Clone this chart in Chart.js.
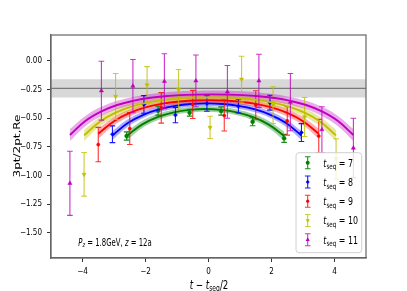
<!DOCTYPE html>
<html><head><meta charset="utf-8">
<script src="https://cdn.jsdelivr.net/npm/chart.js@4.4.1/dist/chart.umd.min.js"></script>
<style>html,body{margin:0;padding:0;background:#fff}canvas{display:block}</style>
</head><body>
<canvas id="c" width="407" height="291"></canvas>
<script>
// ---- axis ticks ----
const xTicks = [-4, -2, 0, 2, 4];
const xTickLabels = ['−4', '−2', '0', '2', '4'];
const yTicks = [0, -0.25, -0.5, -0.75, -1, -1.25, -1.5];
const yTickLabels = ['0.00', '−0.25', '−0.50', '−0.75', '−1.00', '−1.25', '−1.50'];

// ---- series: t_seq values ----
const tseqs = [7, 8, 9, 10, 11];

// data points (x = t - tseq/2, slightly offset), values and errors
const x7 = [-2.6, -1.6, -0.6, 0.4, 1.4, 2.4];
const y7 = [-0.655, -0.434, -0.452, -0.437, -0.531, -0.676];
const e7 = [0.036, 0.039, 0.030, 0.036, 0.035, 0.035];

const x8 = [-3.05, -2.05, -1.05, -0.05, 0.95, 1.95, 2.95];
const y8 = [-0.640, -0.380, -0.473, -0.372, -0.395, -0.365, -0.625];
const e8 = [0.073, 0.077, 0.067, 0.068, 0.060, 0.065, 0.078];

const x9 = [-3.5, -2.5, -1.5, -0.5, 0.5, 1.5, 2.5, 3.5];
const y9 = [-0.730, -0.590, -0.410, -0.380, -0.477, -0.385, -0.524, -0.655];
const e9 = [0.150, 0.140, 0.133, 0.123, 0.135, 0.124, 0.124, 0.145];

const x10 = [-3.95, -2.95, -1.95, -0.95, 0.05, 1.05, 2.05, 3.05, 4.05];
const y10 = [-0.990, -0.310, -0.210, -0.250, -0.580, -0.160, -0.386, -0.490, -0.855];
const e10 = [0.190, 0.200, 0.160, 0.175, 0.097, 0.200, 0.160, 0.170, 0.175];

const x11 = [-4.4, -3.4, -2.4, -1.4, -0.4, 0.6, 1.6, 2.6, 3.6, 4.6];
const y11 = [-1.068, -0.260, -0.220, -0.178, -0.174, -0.270, -0.174, -0.360, -0.600, -0.760];
const e11 = [0.280, 0.257, 0.232, 0.240, 0.226, 0.230, 0.232, 0.250, 0.200, 0.260];

// fit curves with band half-widths
const fx7 = [-2.6, -2.1, -1.6, -1.1, -0.6, -0.1, 0.4, 0.9, 1.4, 1.9, 2.4];
const fy7 = [-0.655, -0.554, -0.489, -0.449, -0.427, -0.420, -0.427, -0.449, -0.489, -0.554, -0.655];
const fe7 = [0.038, 0.031, 0.027, 0.025, 0.024, 0.024, 0.024, 0.025, 0.027, 0.031, 0.038];

const fx8 = [-3.05, -2.55, -2.05, -1.55, -1.05, -0.55, -0.05, 0.45, 0.95, 1.45, 1.95, 2.45, 2.95];
const fy8 = [-0.650, -0.540, -0.468, -0.421, -0.392, -0.376, -0.371, -0.376, -0.392, -0.421, -0.468, -0.540, -0.650];
const fe8 = [0.038, 0.032, 0.028, 0.026, 0.025, 0.024, 0.024, 0.024, 0.025, 0.026, 0.028, 0.032, 0.038];

const fx9 = [-3.5, -3.0, -2.5, -2.0, -1.5, -1.0, -0.5, 0.0, 0.5, 1.0, 1.5, 2.0, 2.5, 3.0, 3.5];
const fy9 = [-0.635, -0.526, -0.454, -0.406, -0.375, -0.356, -0.345, -0.342, -0.345, -0.356, -0.375, -0.406, -0.454, -0.526, -0.635];
const fe9 = [0.043, 0.036, 0.032, 0.029, 0.028, 0.027, 0.027, 0.027, 0.027, 0.027, 0.028, 0.029, 0.032, 0.036, 0.043];

const fx10 = [-3.95, -3.45, -2.95, -2.45, -1.95, -1.45, -0.95, -0.45, 0.05, 0.55, 1.05, 1.55, 2.05, 2.55, 3.05, 3.55, 4.05];
const fy10 = [-0.650, -0.531, -0.452, -0.399, -0.364, -0.342, -0.328, -0.320, -0.318, -0.320, -0.328, -0.342, -0.364, -0.399, -0.452, -0.531, -0.650];
const fe10 = [0.048, 0.041, 0.036, 0.033, 0.031, 0.030, 0.030, 0.030, 0.030, 0.030, 0.030, 0.030, 0.031, 0.033, 0.036, 0.041, 0.048];

const fx11 = [-4.4, -3.9, -3.4, -2.9, -2.4, -1.9, -1.4, -0.9, -0.4, 0.1, 0.6, 1.1, 1.6, 2.1, 2.6, 3.1, 3.6, 4.1, 4.6];
const fy11 = [-0.647, -0.523, -0.441, -0.385, -0.349, -0.324, -0.309, -0.299, -0.294, -0.292, -0.294, -0.299, -0.309, -0.324, -0.349, -0.385, -0.441, -0.523, -0.647];
const fe11 = [0.053, 0.045, 0.040, 0.037, 0.035, 0.034, 0.034, 0.034, 0.034, 0.034, 0.034, 0.034, 0.034, 0.034, 0.035, 0.037, 0.040, 0.045, 0.053];

// plateau (extracted matrix element) band
const plateauValue = -0.24;
const plateauErr = 0.08;
const plateauX = [-5, 5];

const annotationText = ['P', 'z', ' = 1.8GeV, ', 'z', ' = 12a'];

// ---- styling ----
const lineColors = ['#008000', '#0000ff', '#ff0000', '#bfbf00', '#bf00bf'];
const bandColors = ['rgba(0,128,0,0.36)', 'rgba(0,0,255,0.32)', 'rgba(255,0,0,0.32)', 'rgba(191,191,0,0.36)', 'rgba(191,0,191,0.33)'];
const barColors = ['rgba(0,128,0,0.9)', 'rgba(0,0,255,0.9)', 'rgba(255,0,0,0.8)', 'rgba(191,191,0,0.8)', 'rgba(191,0,191,0.8)'];
const markerStyles = ['circle', 'rectRot', 'circle', 'triangle', 'triangle'];
const markerRot = [0, 0, 0, 180, 0];
const markerSize = [2, 2, 1.6, 2.4, 2.4];

const ptsX = [x7, x8, x9, x10, x11], ptsY = [y7, y8, y9, y10, y11], ptsE = [e7, e8, e9, e10, e11];
const fitX = [fx7, fx8, fx9, fx10, fx11], fitY = [fy7, fy8, fy9, fy10, fy11], fitE = [fe7, fe8, fe9, fe10, fe11];

const datasets = [];
// plateau band
datasets.push({type:'line', data: plateauX.map(x => ({x, y: plateauValue - plateauErr})), borderWidth:0, pointRadius:0, fill:false, order:300});
datasets.push({type:'line', data: plateauX.map(x => ({x, y: plateauValue + plateauErr})), borderWidth:0, pointRadius:0, fill:'-1', backgroundColor:'rgba(200,200,200,0.7)', order:299});
datasets.push({type:'line', data: plateauX.map(x => ({x, y: plateauValue})), borderColor:'#7a7a7a', borderWidth:1.4, pointRadius:0, fill:false, order:298});
// fit bands
tseqs.forEach((t, k) => {
  datasets.push({type:'line', data: fitX[k].map((x, i) => ({x, y: fitY[k][i] - fitE[k][i]})), borderWidth:0, pointRadius:0, fill:false, tension:0.4, order:200 - 2*k});
  datasets.push({type:'line', data: fitX[k].map((x, i) => ({x, y: fitY[k][i] + fitE[k][i]})), borderWidth:0, pointRadius:0, fill:'-1', backgroundColor: bandColors[k], tension:0.4, order:199 - 2*k});
});
// points and curves
tseqs.forEach((t, k) => {
  datasets.push({type:'scatter', data: ptsX[k].map((x, i) => ({x, y: ptsY[k][i]})), errors: ptsE[k], barColor: barColors[k],
    pointStyle: markerStyles[k], rotation: markerRot[k], pointRadius: markerSize[k], backgroundColor: lineColors[k], borderColor: lineColors[k], borderWidth:0.5, order:100 - 2*k});
  datasets.push({type:'line', data: fitX[k].map((x, i) => ({x, y: fitY[k][i]})), borderColor: lineColors[k], borderWidth:1.9, pointRadius:0, fill:false, tension:0.4, order:99 - 2*k});
});

const SX = 0.72;
function fnt(p) { return (p.italic ? 'italic ' : '') + p.size + 'px "DejaVu Sans"'; }
function drawRich(ctx, parts, x, y, opts) {
  ctx.save();
  ctx.translate(x, y);
  if (opts.rotate) ctx.rotate(opts.rotate);
  ctx.scale(opts.sx || 1, opts.sy || 1);
  let total = 0;
  parts.forEach(p => { ctx.font = fnt(p); p.w = ctx.measureText(p.t).width; total += p.w; });
  let cx = opts.align === 'center' ? -total / 2 : (opts.align === 'right' ? -total : 0);
  ctx.fillStyle = '#000';
  ctx.textBaseline = opts.baseline || 'alphabetic';
  parts.forEach(p => { ctx.font = fnt(p); ctx.fillText(p.t, cx, p.dy || 0); cx += p.w; });
  ctx.restore();
}

const errorBars = {
  id: 'errorBars',
  beforeDatasetDraw(chart, args) {
    const ds = chart.data.datasets[args.index];
    if (!ds.errors) return;
    const ctx = chart.ctx, xs = chart.scales.x, ys = chart.scales.y, a = chart.chartArea;
    ctx.save();
    ctx.beginPath(); ctx.rect(a.left, a.top, a.right - a.left, a.bottom - a.top); ctx.clip();
    ctx.strokeStyle = ds.barColor; ctx.lineWidth = 1.1;
    ds.data.forEach((p, i) => {
      const px = xs.getPixelForValue(p.x);
      const y1 = ys.getPixelForValue(p.y + ds.errors[i]);
      const y2 = ys.getPixelForValue(p.y - ds.errors[i]);
      ctx.beginPath();
      ctx.moveTo(px, y1); ctx.lineTo(px, y2);
      ctx.moveTo(px - 2.8, y1); ctx.lineTo(px + 2.8, y1);
      ctx.moveTo(px - 2.8, y2); ctx.lineTo(px + 2.8, y2);
      ctx.stroke();
    });
    ctx.restore();
  }
};

const decorations = {
  id: 'decorations',
  afterDraw(chart) {
    const ctx = chart.ctx, a = chart.chartArea;
    // frame
    ctx.save();
    ctx.strokeStyle = '#666'; ctx.lineWidth = 1.2;
    ctx.strokeRect(a.left, a.top, a.right - a.left, a.bottom - a.top);
    ctx.restore();
    // legend
    const lx = 296, ly = 152.7, lw = 65.7, lh = 100;
    ctx.save();
    ctx.beginPath();
    if (ctx.roundRect) ctx.roundRect(lx, ly, lw, lh, 3); else ctx.rect(lx, ly, lw, lh);
    ctx.fillStyle = 'rgba(255,255,255,0.8)'; ctx.fill();
    ctx.strokeStyle = '#d0d0d0'; ctx.lineWidth = 1; ctx.stroke();
    ctx.restore();
    tseqs.forEach((t, k) => {
      const cy = 162.7 + k * 19.25, sx = 307.7;
      ctx.save();
      ctx.strokeStyle = barColors[k]; ctx.lineWidth = 1.1;
      ctx.beginPath();
      ctx.moveTo(sx, cy - 6); ctx.lineTo(sx, cy + 6);
      ctx.moveTo(sx - 2.8, cy - 6); ctx.lineTo(sx + 2.8, cy - 6);
      ctx.moveTo(sx - 2.8, cy + 6); ctx.lineTo(sx + 2.8, cy + 6);
      ctx.stroke();
      ctx.fillStyle = lineColors[k];
      Chart.helpers.drawPoint(ctx, {pointStyle: markerStyles[k], radius: markerSize[k], rotation: markerRot[k], borderWidth: 0}, sx, cy);
      ctx.restore();
      drawRich(ctx, [
        {t:'t', italic:true, size:11},
        {t:'seq', size:7.7, dy:2.6},
        {t:' = ' + t, size:11}
      ], 323.3, cy + 4, {sx: SX});
    });
    // annotation
    drawRich(ctx, [
      {t: annotationText[0], italic:true, size:9.6},
      {t: annotationText[1], italic:true, size:6.7, dy:1.9},
      {t: annotationText[2], size:9.6},
      {t: annotationText[3], italic:true, size:9.6},
      {t: annotationText[4], size:9.6}
    ], 78.3, 245.5, {sx: SX});
    // x label
    drawRich(ctx, [
      {t:'t', italic:true, size:12},
      {t:' − ', size:12},
      {t:'t', italic:true, size:12},
      {t:'seq', size:8.4, dy:2.8},
      {t:'/2', size:12}
    ], 209, 288.5, {sx: SX, align:'center'});
    // y label
    drawRich(ctx, [{t:'3pt/2pt,Re', size:12}], 18, 146, {rotate: -Math.PI / 2, sy: SX, align:'center', baseline:'middle'});
  }
};

const tickFont = {family: '"Liberation Sans Narrow", "DejaVu Sans Condensed", sans-serif', size: 8};

new Chart(document.getElementById('c'), {
  data: {datasets},
  options: {
    responsive: false, animation: false, devicePixelRatio: 1,
    layout: {padding: {left: 0, right: 41, top: 35, bottom: 0}},
    plugins: {legend: {display: false}, tooltip: {enabled: false}},
    scales: {
      x: {
        type: 'linear', min: -5, max: 5,
        afterBuildTicks: s => { s.ticks = xTicks.map(v => ({value: v})); },
        afterFit: s => { s.height = 33; },
        ticks: {callback: (v) => xTickLabels[xTicks.indexOf(v)], font: tickFont, color: '#000', padding: 5, maxRotation: 0, autoSkip: false},
        grid: {drawOnChartArea: false, tickLength: 4, tickColor: '#333', tickWidth: 1},
        border: {display: true, color: '#666', width: 1.2}
      },
      y: {
        type: 'linear', min: -1.72, max: 0.226,
        afterBuildTicks: s => { s.ticks = yTicks.map(v => ({value: v})); },
        afterFit: s => { s.width = 51; },
        ticks: {callback: (v) => yTickLabels[yTicks.indexOf(v)], font: tickFont, color: '#000', padding: 5, autoSkip: false},
        grid: {drawOnChartArea: false, tickLength: 4, tickColor: '#333', tickWidth: 1},
        border: {display: true, color: '#666', width: 1.2}
      }
    }
  },
  plugins: [errorBars, decorations]
});
</script>
</body></html>
